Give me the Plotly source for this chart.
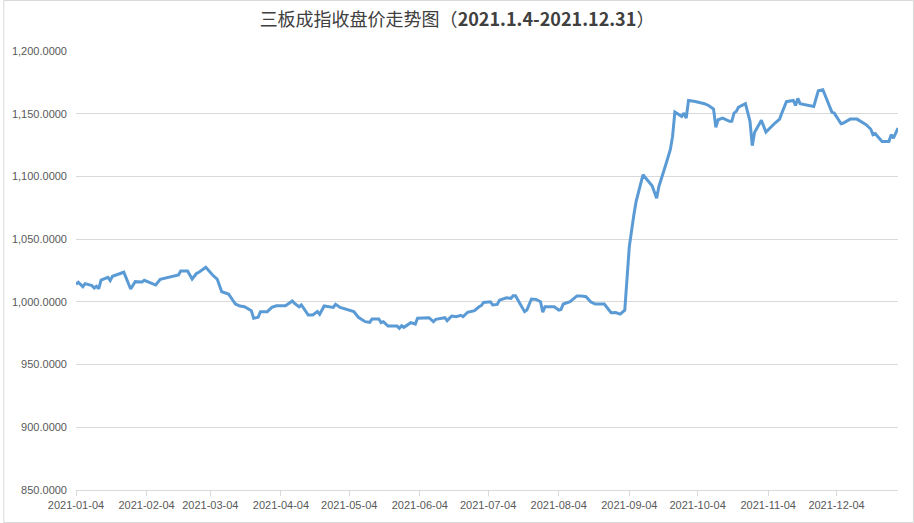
import plotly.graph_objects as go

dates = [
    "2021-01-04", "2021-01-05", "2021-01-07", "2021-01-08", "2021-01-11", "2021-01-12", "2021-01-13",
    "2021-01-14", "2021-01-15", "2021-01-18", "2021-01-19", "2021-01-20", "2021-01-25", "2021-01-28",
    "2021-01-30", "2021-02-02", "2021-02-03", "2021-02-08", "2021-02-10", "2021-02-18", "2021-02-19",
    "2021-02-22", "2021-02-24", "2021-02-26", "2021-02-27", "2021-03-02", "2021-03-05", "2021-03-07",
    "2021-03-09", "2021-03-12", "2021-03-15", "2021-03-17", "2021-03-19", "2021-03-22", "2021-03-23",
    "2021-03-25", "2021-03-26", "2021-03-29", "2021-03-31", "2021-04-02", "2021-04-06", "2021-04-09",
    "2021-04-10", "2021-04-12", "2021-04-13", "2021-04-16", "2021-04-18", "2021-04-20", "2021-04-21",
    "2021-04-23", "2021-04-27", "2021-04-28", "2021-04-30", "2021-05-03", "2021-05-06", "2021-05-08",
    "2021-05-11", "2021-05-13", "2021-05-14", "2021-05-17", "2021-05-18", "2021-05-19", "2021-05-21",
    "2021-05-25", "2021-05-26", "2021-05-27", "2021-05-28", "2021-05-31", "2021-06-02", "2021-06-03",
    "2021-06-08", "2021-06-10", "2021-06-11", "2021-06-15", "2021-06-16", "2021-06-18", "2021-06-20",
    "2021-06-22", "2021-06-23", "2021-06-25", "2021-06-28", "2021-06-30", "2021-07-01", "2021-07-02",
    "2021-07-05", "2021-07-06", "2021-07-08", "2021-07-09", "2021-07-12", "2021-07-14", "2021-07-15",
    "2021-07-16", "2021-07-18", "2021-07-20", "2021-07-21", "2021-07-23", "2021-07-25", "2021-07-27",
    "2021-07-28", "2021-07-29", "2021-08-02", "2021-08-04", "2021-08-05", "2021-08-06", "2021-08-09",
    "2021-08-12", "2021-08-14", "2021-08-16", "2021-08-18", "2021-08-20", "2021-08-24", "2021-08-25",
    "2021-08-27", "2021-08-29", "2021-08-31", "2021-09-02", "2021-09-03", "2021-09-04", "2021-09-06",
    "2021-09-07", "2021-09-10", "2021-09-12", "2021-09-14", "2021-09-16", "2021-09-17", "2021-09-20",
    "2021-09-22", "2021-09-23", "2021-09-24", "2021-09-27", "2021-09-28", "2021-09-29", "2021-09-30",
    "2021-10-03", "2021-10-07", "2021-10-09", "2021-10-11", "2021-10-12", "2021-10-13", "2021-10-15",
    "2021-10-18", "2021-10-19", "2021-10-20", "2021-10-21", "2021-10-22", "2021-10-25", "2021-10-27",
    "2021-10-28", "2021-10-29", "2021-11-01", "2021-11-03", "2021-11-07", "2021-11-09", "2021-11-10",
    "2021-11-12", "2021-11-15", "2021-11-16", "2021-11-17", "2021-11-18", "2021-11-24", "2021-11-26",
    "2021-11-28", "2021-12-02", "2021-12-03", "2021-12-06", "2021-12-07", "2021-12-10", "2021-12-13",
    "2021-12-16", "2021-12-17", "2021-12-19", "2021-12-20", "2021-12-21", "2021-12-24", "2021-12-27",
    "2021-12-28", "2021-12-29", "2021-12-31",
]

close_values = [
    1014.0, 1015.6, 1012.1, 1014.5, 1012.9, 1011.0, 1012.4,
    1010.5, 1017.4, 1019.6, 1016.9, 1020.4, 1023.6, 1010.2,
    1016.1, 1015.8, 1017.2, 1013.4, 1018.0, 1021.4, 1024.6,
    1024.6, 1018.2, 1022.8, 1023.6, 1027.5, 1021.4, 1018.2,
    1008.1, 1006.3, 998.3, 996.7, 996.1, 993.0, 986.9,
    987.7, 992.2, 992.2, 995.6, 996.9, 996.9, 1000.7,
    998.8, 996.1, 997.5, 989.5, 989.5, 992.2, 990.1,
    996.7, 995.6, 998.0, 995.6, 994.0, 992.2, 987.7,
    984.2, 983.7, 986.3, 986.3, 983.4, 984.2, 980.7,
    980.7, 978.9, 981.0, 979.7, 983.4, 982.3, 986.9,
    987.4, 984.2, 986.1, 987.4, 985.0, 988.7, 988.2,
    989.3, 988.2, 991.7, 993.0, 996.1, 997.0, 999.5,
    1000.1, 997.5, 998.0, 1001.4, 1003.3, 1002.8, 1004.9,
    1004.9, 998.3, 992.2, 993.5, 1002.3, 1002.0, 1000.1,
    991.7, 996.1, 996.1, 993.5, 994.0, 998.3, 1000.1,
    1004.7, 1004.7, 1004.1, 1000.1, 998.3, 998.3, 996.1,
    991.3, 991.5, 990.2, 993.3, 1022.9, 1044.1, 1069.4,
    1080.1, 1101.3, 1097.3, 1092.5, 1082.7, 1092.0, 1109.3,
    1121.3, 1131.9, 1151.3, 1147.9, 1150.5, 1146.5, 1160.6,
    1159.8, 1158.0, 1156.4, 1153.7, 1139.1, 1145.2, 1146.5,
    1143.9, 1143.9, 1150.5, 1151.9, 1155.3, 1158.0, 1143.9,
    1124.5, 1135.1, 1144.7, 1135.4, 1142.6, 1145.7, 1150.5,
    1159.6, 1160.6, 1156.6, 1162.2, 1158.0, 1155.8, 1168.3,
    1169.1, 1151.1, 1150.5, 1142.0, 1142.6, 1145.7, 1145.7,
    1142.6, 1141.2, 1137.8, 1133.3, 1134.1, 1127.9, 1127.9,
    1133.3, 1130.6, 1138.6,
]

tick_dates = [
    "2021-01-04", "2021-02-04", "2021-03-04", "2021-04-04", "2021-05-04", "2021-06-04",
    "2021-07-04", "2021-08-04", "2021-09-04", "2021-10-04", "2021-11-04", "2021-12-04",
]
y_ticks = [850, 900, 950, 1000, 1050, 1100, 1150, 1200]

title_text = "三板成指收盘价走势图（<b>2021.1.4-2021.12.31</b>）"

W, H = 914, 523
ML, MR, MT, MB = 73, 16, 51, 33
PW, PH = W - ML - MR, H - MT - MB

fig = go.Figure()
fig.add_trace(go.Scatter(
    x=dates, y=close_values, mode="lines",
    line=dict(color="#5B9BD5", width=3),
    hoverinfo="x+y", showlegend=False,
))

fig.update_layout(
    width=W, height=H,
    margin=dict(l=ML, r=MR, t=MT, b=MB),
    paper_bgcolor="white", plot_bgcolor="white",
    title=dict(
        text=title_text, x=0.5, xref="container", xanchor="center",
        y=1 - 20 / H, yref="container", yanchor="middle",
        font=dict(family="Noto Sans CJK SC", size=18, color="#404040"),
    ),
    xaxis=dict(
        type="date", range=["2021-01-04", "2021-12-31"],
        tickmode="array", tickvals=tick_dates, ticktext=tick_dates,
        ticks="outside", ticklen=5, tickcolor="#d9d9d9", tickwidth=1,
        showline=True, linecolor="#d9d9d9", linewidth=1,
        showgrid=False, zeroline=False,
        tickfont=dict(family="Liberation Sans", size=11, color="#595959"),
    ),
    yaxis=dict(
        range=[850, 1200], tickmode="array", tickvals=y_ticks,
        tickformat=",.4f",
        showgrid=True, gridcolor="#d9d9d9", gridwidth=1,
        showline=False, zeroline=False, ticks="",
        ticklabelstandoff=8,
        tickfont=dict(family="Liberation Sans", size=11, color="#595959"),
    ),
    shapes=[dict(
        type="rect", xref="paper", yref="paper",
        x0=(0.5 - ML) / PW, x1=(W - 0.5 - ML) / PW,
        y0=(MT + PH - (H - 0.5)) / PH, y1=(MT + PH - 0.5) / PH,
        line=dict(color="#d9d9d9", width=1), fillcolor="rgba(0,0,0,0)",
        layer="above",
    )],
)

fig.write_html("out.html", config={"displayModeBar": False})

# remove the browser's default body margin so the figure sits at the page origin
with open("out.html", encoding="utf-8") as f:
    html = f.read()
html = html.replace("<head>", "<head><style>html,body{margin:0;padding:0;overflow:hidden;}</style>", 1)
with open("out.html", "w", encoding="utf-8") as f:
    f.write(html)
